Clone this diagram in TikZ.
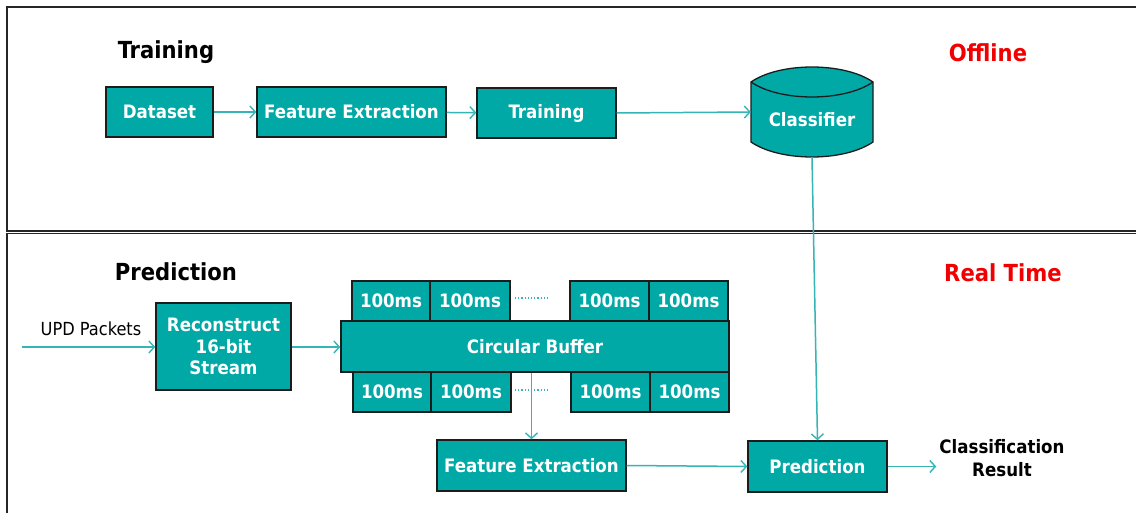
\documentclass[tikz,border=0pt]{standalone}
\usepackage{fontspec}
\setmainfont{DejaVu Sans Condensed}
\usetikzlibrary{arrows.meta}
\definecolor{tealbox}{HTML}{00A8A6}
\definecolor{tealline}{HTML}{35B5B5}
\definecolor{edgedark}{HTML}{1C1C1C}
\definecolor{hired}{HTML}{F00000}
\tikzset{
  box/.style={draw=edgedark, line width=1.4pt, fill=tealbox, text=white,
    font=\bfseries\fontsize{18.5}{21.5}\selectfont, inner sep=0pt, align=center},
  msbox/.style={box, minimum width=79pt, minimum height=40pt},
  flow/.style={draw=tealline, line width=1.5pt,
    -{Straight Barb[length=5.5pt,width=12pt,line width=1.4pt]}},
  title/.style={font=\bfseries\fontsize{23.5}{26}\selectfont},
  frame/.style={draw=black!85, line width=1.5pt}
}
\begin{document}
\begin{tikzpicture}[x=1pt, y=-1pt]
\useasboundingbox (0,0) rectangle (1136,513);
\fill[white] (0,0) rectangle (1136,513);

% panel frames
\draw[frame] (1136,7) -- (7,7) -- (7,231) -- (1136,231);
\draw[frame] (1136,233.5) -- (7,233.5) -- (7,513);

% headings
\node[title] (htrain) at (166,52) {Training};
\node[title] (hpred) at (176,272) {Prediction};
\node[title, text=hired] (hoff) at (988,53) {Offline};
\node[title, text=hired] (hrt) at (1003,273) {Real Time};

% offline training chain
\node[box, minimum width=107pt, minimum height=50pt] (ds) at (159.5,112) {Dataset};
\node[box, minimum width=189pt, minimum height=50pt] (fe1) at (351.5,112) {Feature Extraction};
\node[box, minimum width=139pt, minimum height=50pt] (tr) at (546.5,113) {Training};

% classifier drum
\filldraw[fill=tealbox, draw=edgedark, line width=1.3pt]
  (751,82) .. controls (780,62) and (844,62) .. (873,82) -- (873,142)
  .. controls (844,162) and (780,162) .. (751,142) -- cycle;
\draw[edgedark, line width=1.3pt] (873,82) .. controls (844,102) and (780,102) .. (751,82);
\node[minimum width=122pt, minimum height=90pt, inner sep=0pt] (cls) at (812,112) {};
\node[text=white, font=\bfseries\fontsize{18.5}{21.5}\selectfont] (clstxt) at (812,120) {Classifier};

% real-time chain
\coordinate (pin) at (22,347);
\node[font=\fontsize{18}{21}\selectfont] (upd) at (91,329) {UPD Packets};
\node[box, minimum width=135pt, minimum height=87pt] (rec) at (223.5,346.5)
  {Reconstruct\\16-bit\\Stream};
\node[box, minimum width=388pt, minimum height=51pt] (cb) at (535,346.5) {Circular Buffer};

\node[msbox, minimum width=78pt] (t1) at (391,301) {100ms};
\node[msbox, minimum width=80pt] (t2) at (470,301) {100ms};
\node[msbox] (t3) at (609.5,301) {100ms};
\node[msbox] (t4) at (688.5,301) {100ms};
\node[msbox, minimum width=78pt] (b1) at (392,392) {100ms};
\node[msbox, minimum width=80pt] (b2) at (471,392) {100ms};
\node[msbox] (b3) at (610.5,392) {100ms};
\node[msbox] (b4) at (689.5,392) {100ms};

\draw[tealline, line width=1.2pt, dotted] (515,298) -- (550,298);
\draw[tealline, line width=1.2pt, dotted] (515,390) -- (550,390);

\node[box, minimum width=189pt, minimum height=51pt] (fe2) at (531.5,465.5) {Feature Extraction};
\node[box, minimum width=139pt, minimum height=51pt] (pred) at (817.5,466.5) {Prediction};
\node[font=\bfseries\fontsize{18.5}{23}\selectfont, align=center, inner sep=0pt] (res) at (1002,458)
  {Classification\\Result};

% connectors
\draw[flow] (ds) -- (fe1);
\draw[flow] (fe1) -- (tr);
\draw[flow] (tr.east) -- (cls.west);
\draw[flow] (cls.south) -- (pred.north);
\draw[flow] (pin) -- (rec.west |- pin);
\draw[flow] (rec.east |- pin) -- (cb.west |- pin);
\draw[flow] (fe2.north |- cb.south) -- (fe2.north);
\draw[flow] (fe2.east) -- (pred.west);
\draw[flow] (pred.east) -- ([xshift=-3pt]res.west |- pred.east);
\end{tikzpicture}
\end{document}
